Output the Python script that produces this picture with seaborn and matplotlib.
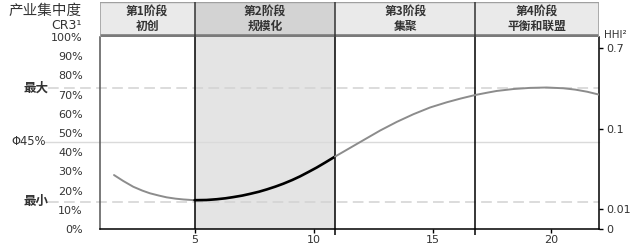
import matplotlib
matplotlib.use("Agg")
import matplotlib.pyplot as plt
import seaborn as sns
import pandas as pd

# ---------------- data ----------------
years = [1.61, 2.0, 2.42, 2.8, 3.12, 3.5, 3.82, 4.2, 4.52, 5.0, 5.5, 5.93, 6.3, 6.62,
         7.0, 7.33, 7.7, 8.03, 8.4, 8.73, 9.1, 9.43, 9.8, 10.13, 10.5, 10.9,
         11.5, 12.1, 12.8, 13.5, 14.2, 14.9, 15.6, 16.2, 16.8, 17.3, 17.7, 18.4,
         19.1, 19.8, 20.5, 21.0, 21.5, 22.0]
cr3 = [28.1, 25.0, 22.0, 20.0, 18.6, 17.4, 16.5, 15.8, 15.4, 15.0, 15.1, 15.5, 16.0, 16.6,
       17.4, 18.3, 19.4, 20.6, 22.1, 23.6, 25.5, 27.4, 29.8, 32.0, 34.7, 37.7,
       42.0, 46.3, 51.3, 55.8, 59.8, 63.3, 66.0, 68.0, 69.8, 71.0, 71.9, 72.9,
       73.5, 73.7, 73.3, 72.6, 71.5, 70.0]
stage_bounds = [1, 5, 10.9, 16.8, 22]
stage_names = ["第1阶段\n初创", "第2阶段\n规模化", "第3阶段\n集聚", "第4阶段\n平衡和联盟"]
highlight_stage = 1
cr3_ticks = [0, 10, 20, 30, 40, 50, 60, 70, 80, 90, 100]
cr3_labels = ["0%", "10%", "20%", "30%", "40%", "50%", "60%", "70%", "80%", "90%", "100%"]
x_ticks = [5, 10, 15, 20]
ref_max, ref_avg, ref_min = 73.5, 45.5, 14.2
ref_labels = ["最大", "Φ45%", "最小"]
hhi_labels = ["0.7", "0.1", "0.01", "0"]
hhi_pos = [94.4, 52.1, 10.4, 0]

# ---------------- style ----------------
sns.set_style("white")
plt.rcParams["font.family"] = ["DejaVu Sans", "Noto Sans CJK SC"]
TXT = "#333333"
CJK = ["Noto Sans CJK SC", "DejaVu Sans"]

fig = plt.figure(figsize=(6.4, 2.45), dpi=100)
L, R = 99.5 / 640, 599 / 640
B, T = 16 / 245, (245 - 37) / 245
ax = fig.add_axes([L, B, R - L, T - B])
axh = fig.add_axes([L, T, R - L, (245 - 2) / 245 - T])

# build segmented frame
g0, g1 = stage_bounds[1], stage_bounds[2]
rows = []
for x, y in zip(years, cr3):
    if x <= g0:
        rows.append((x, y, "pre"))
    if g0 <= x <= g1:
        rows.append((x, y, "growth"))
    if x >= g1:
        rows.append((x, y, "post"))
df = pd.DataFrame(rows, columns=["x", "cr3", "seg"])

lo, hi = stage_bounds[highlight_stage], stage_bounds[highlight_stage + 1]
ax.axvspan(lo, hi, color="#e4e4e4", zorder=0, lw=0)
ax.axhline(ref_max, color="#d2d2d2", lw=1.1, ls=(0, (7, 3.5)), xmin=-0.103, xmax=1, clip_on=False, zorder=1)
ax.axhline(ref_min, color="#d2d2d2", lw=1.1, ls=(0, (7, 3.5)), xmin=-0.103, xmax=1, clip_on=False, zorder=1)
ax.axhline(ref_avg, color="#dadada", lw=1.0, xmin=-0.11, xmax=1, clip_on=False, zorder=1)
for b in stage_bounds[1:-1]:
    ax.axvline(b, color="black", lw=1.1, zorder=2)

sns.lineplot(data=df, x="x", y="cr3", hue="seg", size="seg",
             palette={"pre": "#8c8c8c", "growth": "#000000", "post": "#8c8c8c"},
             sizes={"pre": 1.4, "growth": 1.9, "post": 1.4},
             sort=False, estimator=None, legend=False, ax=ax, zorder=3)
for ln in ax.lines:
    ln.set_solid_capstyle("round")
    ln.set_solid_joinstyle("round")

ax.set_xlim(stage_bounds[0], stage_bounds[-1])
ax.set_ylim(0, 100)
ax.set_xlabel("")
ax.set_ylabel("")
ax.set_xticks(x_ticks)
ax.set_xticklabels([str(t) for t in x_ticks])
ax.set_xticks(stage_bounds[1:-1], minor=True)
ax.set_yticks(cr3_ticks)
ax.set_yticklabels(cr3_labels)
ax.tick_params(axis="x", which="major", length=3, width=1, color="black", pad=1.5,
               labelsize=8, labelcolor=TXT, direction="out", bottom=True)
ax.tick_params(axis="x", which="minor", length=4, width=1.1, color="black", bottom=True)
ax.tick_params(axis="y", length=0, pad=12, labelsize=8, labelcolor=TXT)
for s in ["left", "bottom", "right"]:
    ax.spines[s].set_visible(True)
    ax.spines[s].set_color("black")
    ax.spines[s].set_linewidth(1.1)
ax.spines["left"].set_color("#555555")
ax.spines["top"].set_visible(False)

# reference labels on the left
for yv, lab in zip([ref_max, ref_avg, ref_min], ref_labels):
    is_avg = lab.startswith("Φ")
    ax.text(-0.108 if is_avg else -0.103, yv, lab, transform=ax.get_yaxis_transform(),
            ha="right", va="center", fontsize=8.3 if is_avg else 9, color=TXT,
            fontweight="normal" if is_avg else "bold",
            family=["DejaVu Sans"] if is_avg else CJK)

# right HHI axis
ax2 = ax.twinx()
ax2.set_ylim(0, 100)
ax2.set_yticks(hhi_pos)
ax2.set_yticklabels(hhi_labels)
ax2.tick_params(axis="y", length=3, width=1, color="black", pad=2, labelsize=8, labelcolor=TXT)
for s in ax2.spines.values():
    s.set_visible(False)
ax2.grid(False)
ax.grid(False)

# header band
centers = [(a + b) / 2 for a, b in zip(stage_bounds[:-1], stage_bounds[1:])]
widths = [b - a for a, b in zip(stage_bounds[:-1], stage_bounds[1:])]
fills = ["#d3d3d3" if i == highlight_stage else "#eaeaea" for i in range(len(stage_names))]
axh.bar(centers, [1] * len(centers), width=widths, bottom=0, color=fills, lw=0)
axh.set_xlim(stage_bounds[0], stage_bounds[-1])
axh.set_ylim(0, 1)
axh.axis("off")
axh.axhline(0.02, color="#7a7a7a", lw=2.6)
axh.axhline(0.99, color="#a0a0a0", lw=1)
axh.axvline(stage_bounds[0], color="#a0a0a0", lw=1.2)
axh.axvline(stage_bounds[-1], color="#a0a0a0", lw=1.2)
for b in stage_bounds[1:-1]:
    axh.axvline(b, color="#333333", lw=1.1)
for c, name in zip(centers, stage_names):
    axh.text(c, 0.52, name, ha="center", va="center", fontsize=8.5, color=TXT,
             fontweight="bold", linespacing=1.25, family=CJK)

# axis titles
fig.text(82 / 640, 1 - 11 / 245, "产业集中度", ha="right", va="center", fontsize=10.5,
         color=TXT, family=CJK)
fig.text(82 / 640, 1 - 25.5 / 245, "CR3¹", ha="right", va="center", fontsize=9,
         color=TXT, family=["DejaVu Sans"])
fig.text(604 / 640, 1 - 35 / 245, "HHI²", ha="left", va="center", fontsize=7.5,
         color=TXT, family=["DejaVu Sans"])

fig.savefig("out.png", dpi=100)
